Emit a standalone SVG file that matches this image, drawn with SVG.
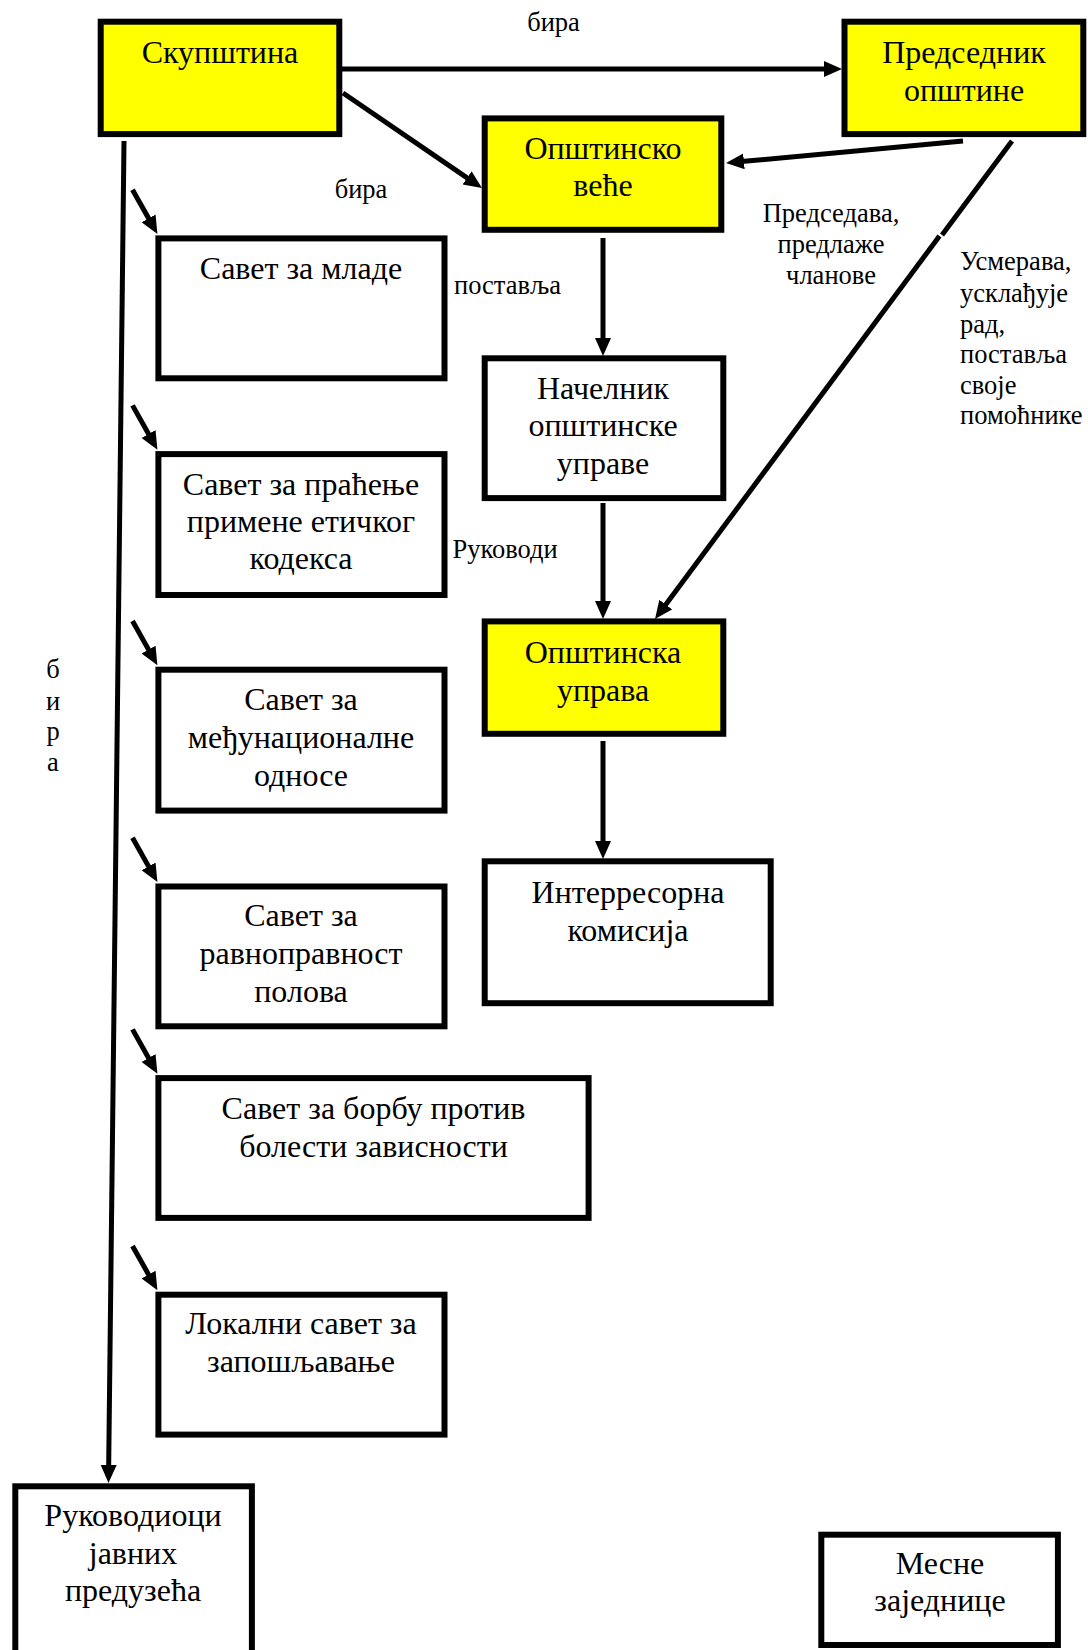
<svg xmlns="http://www.w3.org/2000/svg" width="1088" height="1650" viewBox="0 0 1088 1650">
<style>
.box{fill:#fff;stroke:#000;stroke-width:6}
.ybox{fill:#ffff00;stroke:#000;stroke-width:6}
.nt{font-family:"Liberation Serif","Times New Roman",serif;font-size:32px;fill:#000;text-anchor:middle}
.lb{font-family:"Liberation Serif","Times New Roman",serif;font-size:26.5px;fill:#000}
.c{fill:none;stroke:#000;stroke-width:5}
</style>
<defs>
<marker id="ah" markerUnits="userSpaceOnUse" markerWidth="20" markerHeight="18" refX="8" refY="8" orient="auto">
<path d="M0,0 L18,8 L0,16 z" fill="#000"/>
</marker>
</defs>
<rect width="1088" height="1650" fill="#fff"/>

<g id="connectors">
<line class="c" x1="342" y1="69" x2="832" y2="69" marker-end="url(#ah)"/>
<line class="c" x1="343" y1="93" x2="473.7" y2="182.4" marker-end="url(#ah)"/>
<line class="c" x1="963" y1="141" x2="736" y2="162.1" marker-end="url(#ah)"/>
<line class="c" x1="1012" y1="141" x2="942" y2="235"/>
<line class="c" x1="939.5" y1="236" x2="661" y2="611" marker-end="url(#ah)"/>
<line class="c" x1="603" y1="238" x2="603" y2="346" marker-end="url(#ah)"/>
<line class="c" x1="603" y1="503" x2="603" y2="609" marker-end="url(#ah)"/>
<line class="c" x1="603" y1="741" x2="603" y2="849" marker-end="url(#ah)"/>
<line class="c" x1="124" y1="141" x2="108.6" y2="1473" marker-end="url(#ah)"/>
<line class="c" x1="132.5" y1="189.7" x2="152.5" y2="225.3" marker-end="url(#ah)"/>
<line class="c" x1="132.5" y1="405.4" x2="152.5" y2="441" marker-end="url(#ah)"/>
<line class="c" x1="132.5" y1="621" x2="152.5" y2="656.6" marker-end="url(#ah)"/>
<line class="c" x1="132.5" y1="837.8" x2="152.5" y2="873.4" marker-end="url(#ah)"/>
<line class="c" x1="132.5" y1="1029.4" x2="152.5" y2="1065" marker-end="url(#ah)"/>
<line class="c" x1="132.5" y1="1246" x2="152.5" y2="1281.6" marker-end="url(#ah)"/>
<text class="lb" x="553.5" y="31" text-anchor="middle">бира</text>
<text class="lb" x="361" y="198" text-anchor="middle">бира</text>
<text class="lb" x="454" y="294">поставља</text>
<text class="lb" x="452.5" y="558">Руководи</text>
<text class="lb" text-anchor="middle"><tspan x="831" y="222">Председава,</tspan><tspan x="831" y="253">предлаже</tspan><tspan x="831" y="284">чланове</tspan></text>
<text class="lb"><tspan x="960" y="270">Усмерава,</tspan><tspan x="960" y="301.5">усклађује</tspan><tspan x="960" y="332.5">рад,</tspan><tspan x="960" y="363">поставља</tspan><tspan x="960" y="393.5">своје</tspan><tspan x="960" y="424">помоћнике</tspan></text>
<text class="lb" text-anchor="middle"><tspan x="53" y="678">б</tspan><tspan x="53" y="709.5">и</tspan><tspan x="53" y="740">р</tspan><tspan x="53" y="770.5">а</tspan></text>
</g>

<g id="n-skupstina"><rect class="ybox" x="100.7" y="21.7" width="238.6" height="112.4"/><text class="nt" x="220" y="63">Скупштина</text></g>
<g id="n-predsednik"><rect class="ybox" x="844.5" y="21.7" width="238.8" height="112.4"/><text class="nt"><tspan x="964" y="63">Председник</tspan><tspan x="964" y="101">општине</tspan></text></g>
<g id="n-vece"><rect class="ybox" x="484.7" y="118.4" width="236.6" height="111.4"/><text class="nt"><tspan x="603" y="159">Општинско</tspan><tspan x="603" y="196">веће</tspan></text></g>
<g id="n-mlade"><rect class="box" x="158.4" y="238.4" width="286.1" height="139.9"/><text class="nt" x="301" y="279">Савет за младе</text></g>
<g id="n-nacelnik"><rect class="box" x="484.7" y="358.3" width="238.6" height="139.8"/><text class="nt"><tspan x="603" y="399">Начелник</tspan><tspan x="603" y="436">општинске</tspan><tspan x="603" y="473.5">управе</tspan></text></g>
<g id="n-etika"><rect class="box" x="158.4" y="454.1" width="286.1" height="140.9"/><text class="nt"><tspan x="301" y="494.5">Савет за праћење</tspan><tspan x="301" y="532">примене етичког</tspan><tspan x="301" y="569">кодекса</tspan></text></g>
<g id="n-uprava"><rect class="ybox" x="484.7" y="621.4" width="238.6" height="112.4"/><text class="nt"><tspan x="603" y="663">Општинска</tspan><tspan x="603" y="701">управа</tspan></text></g>
<g id="n-medjunac"><rect class="box" x="158.4" y="669.7" width="286.1" height="140.9"/><text class="nt"><tspan x="301" y="710">Савет за</tspan><tspan x="301" y="748">међунационалне</tspan><tspan x="301" y="786">односе</tspan></text></g>
<g id="n-interresorna"><rect class="box" x="484.7" y="861.3" width="286" height="141.9"/><text class="nt"><tspan x="628" y="903">Интерресорна</tspan><tspan x="628" y="941">комисија</tspan></text></g>
<g id="n-polovi"><rect class="box" x="158.4" y="886.5" width="286.1" height="139.8"/><text class="nt"><tspan x="301" y="926">Савет за</tspan><tspan x="301" y="964">равноправност</tspan><tspan x="301" y="1001.5">полова</tspan></text></g>
<g id="n-zavisnost"><rect class="box" x="158.4" y="1078.1" width="430.2" height="139.8"/><text class="nt"><tspan x="373.5" y="1118.5">Савет за борбу против</tspan><tspan x="373.5" y="1156.5">болести зависности</tspan></text></g>
<g id="n-zaposljavanje"><rect class="box" x="158.4" y="1294.7" width="286.1" height="139.9"/><text class="nt"><tspan x="301" y="1334">Локални савет за</tspan><tspan x="301" y="1372">запошљавање</tspan></text></g>
<g id="n-javna"><rect class="box" x="15.3" y="1486.3" width="236.6" height="200"/><text class="nt"><tspan x="133" y="1526">Руководиоци</tspan><tspan x="133" y="1563.5">јавних</tspan><tspan x="133" y="1600.5">предузећа</tspan></text></g>
<g id="n-mesne"><rect class="box" x="821.3" y="1534.7" width="236.6" height="110.3"/><text class="nt"><tspan x="940" y="1574">Месне</tspan><tspan x="940" y="1611">заједнице</tspan></text></g>
</svg>
